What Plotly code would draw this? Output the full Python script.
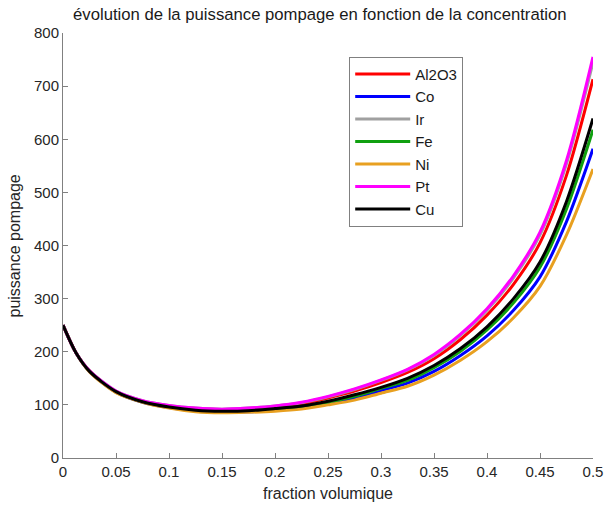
import plotly.graph_objects as go

# fraction volumique
x_vals = [0, 0.0125, 0.025, 0.05, 0.075, 0.1, 0.125, 0.15, 0.175, 0.2, 0.225, 0.25,
          0.275, 0.3, 0.325, 0.35, 0.375, 0.4, 0.425, 0.45, 0.475, 0.5]

al2o3 = [250, 197, 164, 125, 107, 98, 93, 91, 92, 96, 102, 113,
         126, 142, 161, 187, 223, 269, 327, 405, 532, 713]
co = [250, 197, 163, 124, 105, 95, 89, 86, 87, 90, 95, 103,
      113, 127, 141, 163, 193, 230, 278, 341, 445, 582]
ir = [250, 197, 164, 126, 108, 99, 94, 92, 94, 98, 104, 115,
      129, 146, 166, 193, 231, 278, 339, 420, 554, 745]
fe = [250, 197, 163, 124, 106, 96, 90, 87, 89, 92, 97, 105,
      116, 131, 146, 170, 201, 241, 292, 359, 469, 618]
ni = [250, 197, 162, 123, 105, 94, 87, 85, 86, 88, 92, 100,
      109, 122, 135, 156, 184, 219, 264, 323, 420, 544]
pt = [250, 197, 164, 126, 108, 99, 94, 92, 94, 98, 105, 116,
      130, 147, 167, 195, 233, 281, 343, 425, 560, 755]
cu = [250, 197, 163, 125, 106, 96, 90, 88, 89, 93, 98, 107,
      119, 133, 150, 174, 206, 247, 300, 369, 483, 639]

names = ["Al2O3", "Co", "Ir", "Fe", "Ni", "Pt", "Cu"]
series = [al2o3, co, ir, fe, ni, pt, cu]
colors = ["#ff0000", "#0000ff", "#a0a0a0", "#10a010", "#e8a020", "#ff00ff", "#000000"]

x_ticks = [0, 0.05, 0.1, 0.15, 0.2, 0.25, 0.3, 0.35, 0.4, 0.45, 0.5]
x_tick_labels = ["0", "0.05", "0.1", "0.15", "0.2", "0.25", "0.3", "0.35", "0.4", "0.45", "0.5"]
y_ticks = [0, 100, 200, 300, 400, 500, 600, 700, 800]

fig = go.Figure()
for name, ys, col in zip(names, series, colors):
    fig.add_trace(go.Scatter(
        x=x_vals, y=ys, name=name, mode="lines", cliponaxis=False,
        line=dict(color=col, width=3, shape="spline", smoothing=0.8),
    ))

font_family = "Liberation Sans, Arial, sans-serif"
fig.update_layout(
    width=608, height=506,
    margin=dict(l=63, r=15, t=33, b=48),
    paper_bgcolor="white", plot_bgcolor="white",
    font=dict(family=font_family, size=15, color="#262626"),
    title=dict(text="évolution de la puissance pompage en fonction de la concentration",
               x=0.526, xanchor="center", y=0.972, yanchor="middle",
               font=dict(size=16.7, color="#1a1a1a")),
    showlegend=True,
    legend=dict(
        x=0.54, y=0.944, xanchor="left", yanchor="top",
        bgcolor="white", bordercolor="#808080", borderwidth=1,
        font=dict(size=15, color="#1a1a1a"),
        itemwidth=55, tracegroupgap=0,
    ),
    xaxis=dict(
        range=[0, 0.5], tickvals=x_ticks, ticktext=x_tick_labels, automargin=False,
        showgrid=False, zeroline=False, showline=True, linecolor="#808080", linewidth=1,
        ticks="inside", ticklen=5, tickcolor="#808080",
        tickfont=dict(size=15, color="#262626"),
        title=dict(text="fraction volumique", font=dict(size=16, color="#262626"), standoff=8),
    ),
    yaxis=dict(
        range=[0, 800], tickvals=y_ticks, automargin=False,
        showgrid=False, zeroline=False, showline=True, linecolor="#808080", linewidth=1,
        ticks="inside", ticklen=5, tickcolor="#808080",
        tickfont=dict(size=15, color="#262626"),
    ),
    annotations=[dict(
        text="puissance pompage", textangle=-90,
        xref="paper", yref="paper", x=-0.0906, y=0.5,
        xanchor="center", yanchor="middle", showarrow=False,
        font=dict(size=16, color="#262626"),
    )],
)

fig.write_html("out.html", config={"displayModeBar": False},
               post_script="document.body.style.margin='0';")
